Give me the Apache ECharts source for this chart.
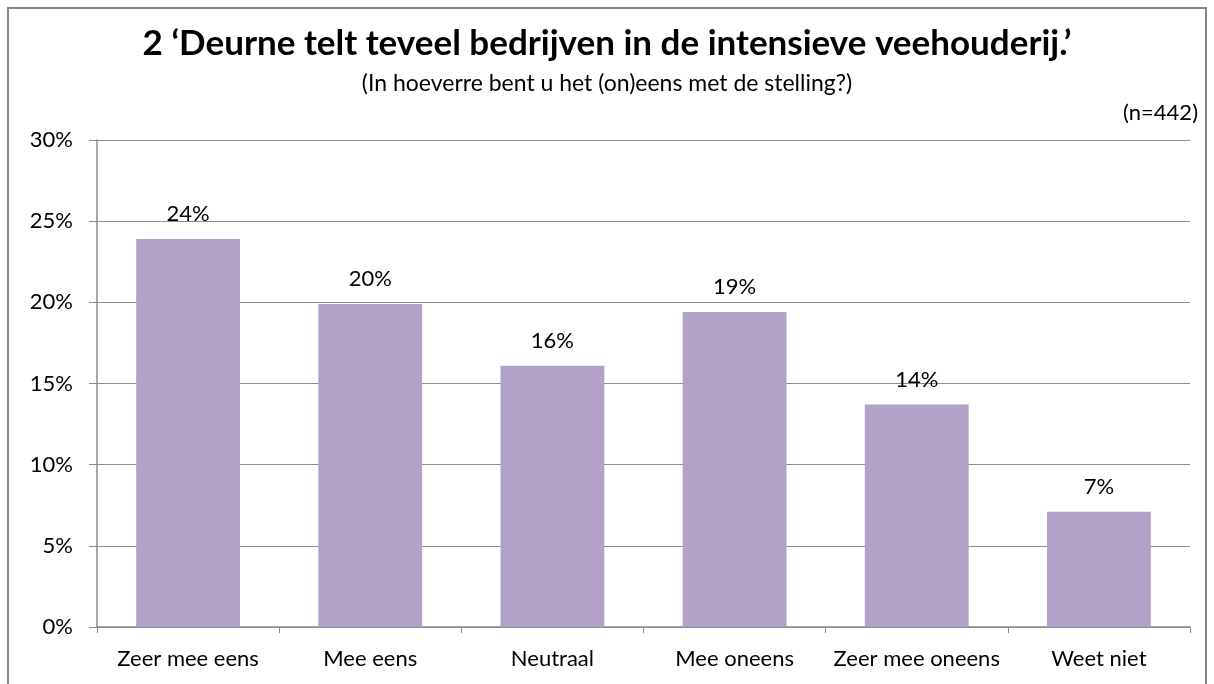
<!DOCTYPE html>
<html>
<head>
<meta charset="utf-8">
<script src="https://cdn.jsdelivr.net/npm/echarts@6/dist/echarts.min.js"></script>
<style>
  html, body { margin: 0; padding: 0; background: #fff; }
  #chart { width: 1214px; height: 684px; }
</style>
</head>
<body>
<div id="chart"></div>
<script>
// antwoordcategorieën en percentages
const categories = ['Zeer mee eens', 'Mee eens', 'Neutraal', 'Mee oneens', 'Zeer mee oneens', 'Weet niet']
const percentages = [23.9, 19.9, 16.1, 19.4, 13.7, 7.1]
const yTicks = [0, 5, 10, 15, 20, 25, 30]

const font = 'Lato, "Open Sans", sans-serif'
const myChart = echarts.init(document.getElementById('chart'))

const option = {
  animation: false,
  graphic: [
    {
      type: 'rect',
      shape: { x: 8, y: 8, width: 1198, height: 690 },
      style: { fill: 'none', stroke: '#878787', lineWidth: 2 },
    },
    {
      type: 'text',
      left: 'center',
      top: 26,
      style: {
        text: '2 \u2018Deurne telt teveel bedrijven in de intensieve veehouderij.\u2019',
        font: 'bold 35px ' + font,
        fill: '#000',
      },
    },
    {
      type: 'text',
      left: 'center',
      top: 72,
      style: {
        text: '(In hoeverre bent u het (on)eens met de stelling?)',
        font: '23px ' + font,
        fill: '#000',
      },
    },
    {
      type: 'text',
      right: 16,
      top: 102,
      style: { text: '(n=442)', font: '22px ' + font, fill: '#000' },
    },
  ],
  grid: {
    left: 97,
    right: 24,
    top: 140,
    bottom: 57,
    containLabel: false,
  },
  xAxis: {
    type: 'category',
    data: categories,
    axisLine: { lineStyle: { color: '#8c8c8c', width: 1.5 } },
    axisTick: { show: true, length: 6, lineStyle: { color: '#8c8c8c' } },
    axisLabel: { color: '#000', fontSize: 22, fontFamily: font, margin: 21, interval: 0 },
  },
  yAxis: {
    type: 'value',
    min: yTicks[0],
    max: yTicks[yTicks.length - 1],
    interval: 5,
    axisLine: { show: true, lineStyle: { color: '#8c8c8c', width: 1.5 } },
    axisTick: { show: true, length: 8, lineStyle: { color: '#8c8c8c' } },
    axisLabel: { color: '#000', fontSize: 22, fontFamily: font, margin: 24, formatter: '{value}%' },
    splitLine: { lineStyle: { color: '#8c8c8c', width: 1.2 } },
  },
  series: [
    {
      type: 'bar',
      data: percentages,
      barWidth: '57%',
      itemStyle: { color: '#B3A2C7' },
      label: {
        show: true,
        position: 'top',
        distance: 14,
        color: '#000',
        fontSize: 22,
        fontFamily: font,
        formatter: (p) => Math.round(p.value) + '%',
      },
    },
  ],
}

myChart.setOption(option)
</script>
</body>
</html>
